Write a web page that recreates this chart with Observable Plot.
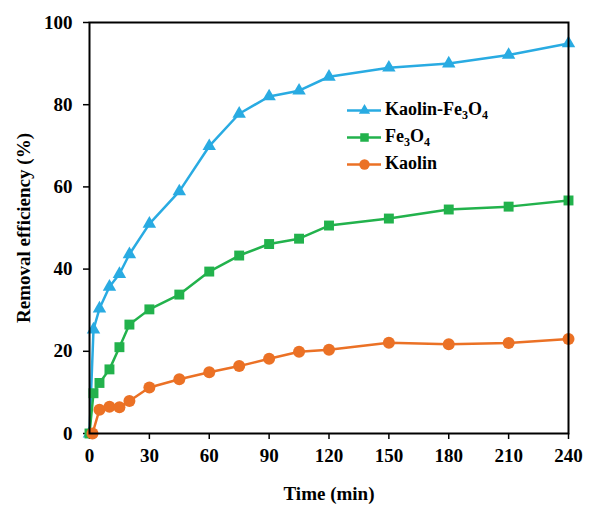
<!DOCTYPE html>
<html>
<head>
<meta charset="utf-8">
<script src="https://cdn.jsdelivr.net/npm/d3@7"></script>
<script src="https://cdn.jsdelivr.net/npm/@observablehq/plot@0.6"></script>
<style>
  html, body { margin: 0; padding: 0; background: #fff; }
  #wrap { position: relative; width: 592px; height: 505px; font-family: "Liberation Serif", "Times New Roman", serif; font-weight: bold; }
  #legend { position: absolute; left: 347px; top: 96px; }
  .item { display: flex; align-items: center; height: 27px; font-size: 18px; color: #000; }
  .item svg { margin-right: 4px; }
  sub { font-size: 12px; vertical-align: -4px; line-height: 0; }
</style>
</head>
<body>
<div id="wrap"></div>
<script>
const times = [0, 2, 5, 10, 15, 20, 30, 45, 60, 75, 90, 105, 120, 150, 180, 210, 240];
const kaolinFe3O4 = [0, 25.3, 30.4, 35.7, 38.8, 43.6, 51.0, 58.9, 69.9, 77.8, 82.0, 83.4, 86.8, 89.0, 90.0, 92.1, 94.9];
const fe3o4 = [0, 9.8, 12.3, 15.6, 21.0, 26.5, 30.2, 33.8, 39.4, 43.3, 46.1, 47.4, 50.6, 52.3, 54.5, 55.2, 56.7];
const timesKaolin = [1.5, 5, 10, 15, 20, 30, 45, 60, 75, 90, 105, 120, 150, 180, 210, 240];
const kaolin = [0, 5.8, 6.5, 6.4, 7.9, 11.2, 13.2, 14.9, 16.4, 18.2, 19.9, 20.4, 22.1, 21.7, 22.0, 23.0];
const xTicks = [0, 30, 60, 90, 120, 150, 180, 210, 240];
const yTicks = [0, 20, 40, 60, 80, 100];
const seriesNames = ["Kaolin-Fe3O4", "Fe3O4", "Kaolin"];
const seriesColors = ["#29ABE2", "#22B24C", "#EB7125"];
const seriesSymbols = ["triangle", "square", "circle"];
const seriesR = [5, 5.6, 6];

const rows = [
  ...times.map((t, i) => ({series: seriesNames[0], time: t, value: kaolinFe3O4[i]})),
  ...times.map((t, i) => ({series: seriesNames[1], time: t, value: fe3o4[i]})),
  ...timesKaolin.map((t, i) => ({series: seriesNames[2], time: t, value: kaolin[i]}))
];

const marks = [];
seriesNames.forEach((name, k) => {
  const d = rows.filter(r => r.series === name);
  marks.push(Plot.line(d, {x: "time", y: "value", stroke: seriesColors[k], strokeWidth: 2.5}));
  marks.push(Plot.dot(d, {x: "time", y: "value", fill: seriesColors[k], symbol: seriesSymbols[k], r: seriesR[k], stroke: "none"}));
});

const chart = Plot.plot({
  width: 592,
  height: 505,
  marginLeft: 89,
  marginRight: 24,
  marginTop: 22,
  marginBottom: 72,
  style: {fontFamily: "Liberation Serif, Times New Roman, serif", fontWeight: "bold", fontSize: "18px", color: "#000", background: "#fff"},
  x: {domain: [0, 240]},
  y: {domain: [0, 100]},
  marks: [
    Plot.axisX({ticks: xTicks, tickSize: 6, tickPadding: 9, strokeWidth: 1.5, fontSize: 19, label: "Time (min)", labelAnchor: "center", labelArrow: "none", labelOffset: 66, fontWeight: "bold"}),
    Plot.axisY({ticks: yTicks, tickSize: 6, tickPadding: 11, strokeWidth: 1.5, fontSize: 19, label: "Removal efficiency (%)", labelAnchor: "center", labelArrow: "none", labelOffset: 73, fontWeight: "bold"}),
    ...marks,
    Plot.frame({stroke: "#000", strokeWidth: 2})
  ]
});
document.getElementById("wrap").appendChild(chart);

// legend
const legend = document.createElement("div");
legend.id = "legend";
const labelsHtml = ["Kaolin-Fe<sub>3</sub>O<sub>4</sub>", "Fe<sub>3</sub>O<sub>4</sub>", "Kaolin"];
seriesNames.forEach((name, k) => {
  const item = document.createElement("div");
  item.className = "item";
  const sym = Plot.plot({
    width: 34, height: 14, margin: 0,
    x: {domain: [0, 1], axis: null}, y: {domain: [0, 1], axis: null},
    marks: [
      Plot.line([[0, 0.5], [1, 0.5]], {stroke: seriesColors[k], strokeWidth: 2.5}),
      Plot.dot([[0.5, 0.5]], {fill: seriesColors[k], symbol: seriesSymbols[k], r: seriesR[k] - 0.8})
    ]
  });
  item.appendChild(sym);
  const span = document.createElement("span");
  span.innerHTML = labelsHtml[k];
  item.appendChild(span);
  legend.appendChild(item);
});
document.getElementById("wrap").appendChild(legend);
</script>
</body>
</html>
